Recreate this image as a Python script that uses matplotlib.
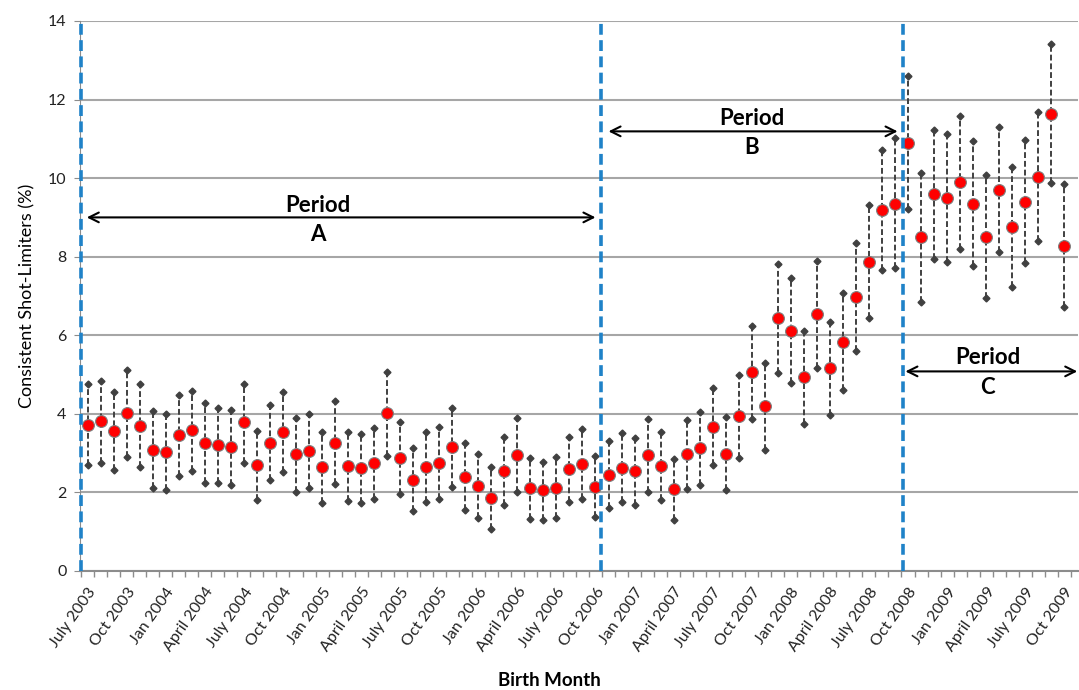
import numpy as np
import matplotlib
matplotlib.use("Agg")
import matplotlib.pyplot as plt
from matplotlib.ticker import FixedLocator, MultipleLocator

plt.rcParams["font.family"] = ["Lato", "DejaVu Sans"]

# consistent shot-limiters (%) per birth month, July 2003 .. Oct 2009
rate = [3.71, 3.81, 3.57, 4.01, 3.69, 3.09, 3.04, 3.45, 3.58, 3.26, 3.20, 3.15,
        3.78, 2.70, 3.27, 3.54, 2.97, 3.06, 2.65, 3.26, 2.67, 2.61, 2.75, 4.01,
        2.88, 2.32, 2.65, 2.76, 3.16, 2.39, 2.17, 1.87, 2.54, 2.96, 2.10, 2.05,
        2.12, 2.60, 2.73, 2.15, 2.45, 2.62, 2.54, 2.94, 2.66, 2.08, 2.98, 3.12,
        3.67, 2.98, 3.95, 5.06, 4.20, 6.43, 6.12, 4.94, 6.54, 5.16, 5.84, 6.97,
        7.87, 9.20, 9.35, 10.90, 8.49, 9.59, 9.49, 9.90, 9.35, 8.50, 9.71, 8.75,
        9.39, 10.03, 11.64, 8.28]
upper = [4.76, 4.84, 4.56, 5.11, 4.76, 4.08, 4.00, 4.49, 4.59, 4.27, 4.14, 4.09,
         4.77, 3.57, 4.23, 4.56, 3.90, 3.99, 3.54, 4.32, 3.54, 3.49, 3.65, 5.07,
         3.78, 3.12, 3.54, 3.67, 4.16, 3.25, 2.98, 2.65, 3.40, 3.89, 2.88, 2.77,
         2.89, 3.41, 3.61, 2.92, 3.31, 3.50, 3.38, 3.88, 3.54, 2.84, 3.85, 4.05,
         4.66, 3.91, 5.00, 6.24, 5.29, 7.82, 7.46, 6.12, 7.90, 6.34, 7.08, 8.36,
         9.31, 10.72, 11.02, 12.60, 10.13, 11.23, 11.13, 11.59, 10.95, 10.08, 11.30, 10.29,
         10.97, 11.68, 13.42, 9.84]
lower = [2.70, 2.76, 2.57, 2.91, 2.64, 2.11, 2.07, 2.41, 2.54, 2.25, 2.25, 2.20,
         2.76, 1.81, 2.32, 2.52, 2.02, 2.12, 1.73, 2.21, 1.79, 1.73, 1.84, 2.93,
         1.97, 1.52, 1.76, 1.84, 2.15, 1.54, 1.36, 1.08, 1.68, 2.01, 1.32, 1.31,
         1.35, 1.76, 1.84, 1.37, 1.60, 1.75, 1.68, 2.00, 1.80, 1.31, 2.09, 2.20,
         2.70, 2.06, 2.88, 3.88, 3.08, 5.04, 4.78, 3.75, 5.17, 3.98, 4.61, 5.59,
         6.43, 7.67, 7.71, 9.21, 6.85, 7.95, 7.86, 8.19, 7.76, 6.94, 8.12, 7.23,
         7.83, 8.39, 9.87, 6.71]

tick_labels = ["July 2003", "Oct 2003", "Jan 2004", "April 2004", "July 2004", "Oct 2004",
               "Jan 2005", "April 2005", "July 2005", "Oct 2005", "Jan 2006", "April 2006",
               "July 2006", "Oct 2006", "Jan 2007", "April 2007", "July 2007", "Oct 2007",
               "Jan 2008", "April 2008", "July 2008", "Oct 2008", "Jan 2009", "April 2009",
               "July 2009", "Oct 2009"]

# period boundaries (category units) and arrows: (label, x0, x1, y, text x, text y)
boundaries = [-0.5, 39.4, 62.6]
periods = [("A", -0.07, 39.0, 9.0, 17.7, 9.31, 8.56),
           ("B", 40.0, 62.2, 11.19, 51.0, 11.53, 10.79),
           ("C", 62.8, 76.0, 5.08, 69.1, 5.43, 4.67)]

x = np.arange(len(rate))

fig = plt.figure(figsize=(10.79, 6.90), dpi=100)
ax = fig.add_axes([0.0746, 0.1725, 0.9244, 0.7971])

ax.set_xlim(-0.55, 76.05)
ax.set_ylim(0, 14)
ax.yaxis.set_major_locator(MultipleLocator(2))
ax.grid(axis="y", color="#a6a6a6", lw=1.5)
ax.set_axisbelow(True)
for s in ["top", "right"]:
    ax.spines[s].set_visible(False)
ax.spines["bottom"].set_color("#8c8c8c")
ax.spines["bottom"].set_linewidth(1.5)
ax.spines["left"].set_color("#8c8c8c")
ax.tick_params(axis="y", length=4, color="#8c8c8c", labelsize=11.5, labelcolor="#222222", pad=6)

ax.xaxis.set_major_locator(FixedLocator(np.arange(0, 76, 3)))
ax.set_xticklabels(tick_labels, rotation=55, ha="right", va="top",
                   rotation_mode="anchor", fontsize=11.5, color="#222222")
ax.xaxis.set_minor_locator(FixedLocator(np.arange(-0.5, 76, 1)))
ax.tick_params(axis="x", which="major", length=0, pad=10)
ax.tick_params(axis="x", which="minor", length=4, color="#8c8c8c", width=1)

ax.vlines(x, lower, upper, colors="#404040", linestyles=(0, (3, 1.5)), lw=1.4, zorder=2)
ax.plot(x, upper, "D", color="#404040", ms=3.5, zorder=3)
ax.plot(x, lower, "D", color="#404040", ms=3.5, zorder=3)
ax.plot(x, rate, "o", color="#ff0000", mec="#7f7f7f", mew=0.8, ms=8.5, zorder=4)

for b in boundaries:
    ax.axvline(b, color="#1f82c8", lw=2.6, ls=(0, (3, 1.5)), zorder=5, clip_on=False)

for name, x0, x1, y, tx, ty1, ty2 in periods:
    ax.annotate("", xy=(x1, y), xytext=(x0, y), annotation_clip=False,
                arrowprops=dict(arrowstyle="<->,head_length=0.7,head_width=0.35",
                                color="black", lw=1.5, shrinkA=0, shrinkB=0))
    ax.text(tx, ty1, "Period", ha="center", va="center", fontsize=16, fontweight="bold")
    ax.text(tx, ty2, name, ha="center", va="center", fontsize=16, fontweight="bold")

ax.set_ylabel("Consistent Shot-Limiters (%)", fontsize=13, labelpad=9)
fig.text(549 / 1079, 1 - 680 / 690, "Birth Month", ha="center", va="center",
         fontsize=13.5, fontweight="bold")

fig.savefig("out.png", dpi=100)
plt.close(fig)
